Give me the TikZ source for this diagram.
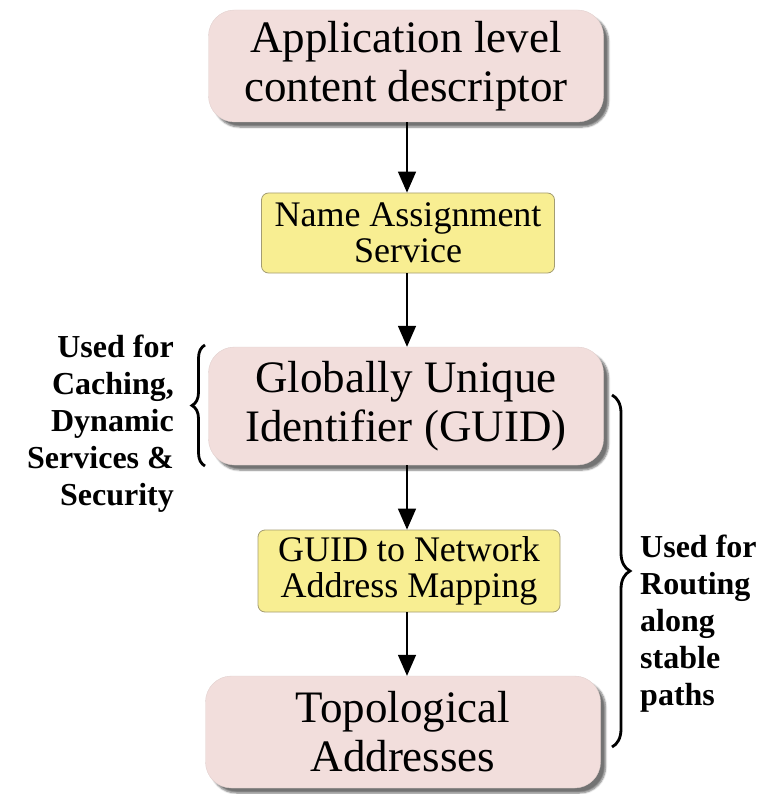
\documentclass[tikz,border=0pt]{standalone}
\usepackage{fontspec}
\setmainfont{Liberation Serif}
\usetikzlibrary{arrows.meta,decorations.pathreplacing,shadows.blur}
\definecolor{pinkbox}{HTML}{F2DEDC}
\definecolor{yellowbox}{HTML}{F8EE92}
\definecolor{yellowborder}{HTML}{A39C72}
\tikzset{
  bigbox/.style={fill=pinkbox, draw=pinkbox!85!gray, rounded corners=26pt, minimum width=395pt,
    align=center, font=\fontsize{45}{49}\selectfont, inner sep=0pt,
    blur shadow={shadow xshift=5pt, shadow yshift=-5pt, shadow blur steps=6, shadow opacity=55}},
  smallbox/.style={fill=yellowbox, draw=yellowborder, line width=0.8pt, rounded corners=7pt,
    align=center, font=\fontsize{36}{36}\selectfont, inner sep=0pt},
  flow/.style={line width=1.5pt, -{Triangle[width=18pt,length=21pt]}},
  bracestyle/.style={line width=2.8pt, decorate, decoration={brace, amplitude=13pt}},
  sidetext/.style={font=\bfseries\fontsize{32}{37}\selectfont, inner sep=0pt}
}
\begin{document}
\begin{tikzpicture}[x=1pt,y=-1pt]
\useasboundingbox (0,0) rectangle (768,794);
\node[bigbox, minimum height=112pt] (app) at (406,66) {Application level\\content descriptor};
\node[smallbox, minimum width=293pt, minimum height=80pt] (nas) at (408,233) {Name Assignment\\Service};
\node[bigbox, minimum height=118pt] (guid) at (406,406) {Globally Unique\\Identifier (GUID)};
\node[smallbox, minimum width=302pt, minimum height=82pt] (map) at (409,571) {GUID to Network\\Address Mapping};
\node[bigbox, minimum height=112pt] (topo) at (403,732) {Topological\\Addresses};
\draw[flow] (app.south -| 407,0) -- (nas.north -| 407,0);
\draw[flow] (nas.south -| 407,0) -- (guid.north -| 407,0);
\draw[flow] (guid.south -| 407,0) -- (map.north -| 407,0);
\draw[flow] (map.south -| 407,0) -- (topo.north -| 407,0);
\coordinate (lb1) at (205,466);
\coordinate (lb2) at (205,345);
\draw[bracestyle] (lb1) -- (lb2);
\coordinate (rb1) at (612,395);
\coordinate (rb2) at (612,747);
\draw[bracestyle, decoration={brace, amplitude=18pt}] (rb1) -- (rb2);
\node[sidetext, anchor=north east, align=right] (lefttext) at (174,335) {Used for\\Caching,\\Dynamic\\Services \&\\Security};
\node[sidetext, anchor=north west, align=left] (righttext) at (640,535) {Used for\\Routing\\along\\stable\\paths};
\end{tikzpicture}
\end{document}
